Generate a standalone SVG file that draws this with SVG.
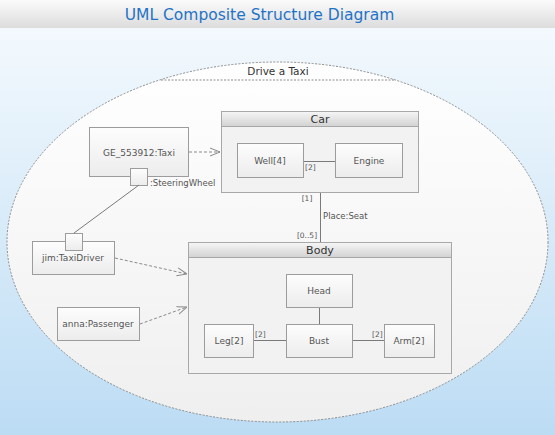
<svg xmlns="http://www.w3.org/2000/svg" width="555" height="435" viewBox="0 0 555 435">
<defs>
<linearGradient id="bg" x1="0" y1="0" x2="0" y2="1"><stop offset="0" stop-color="#f7fbfe"/><stop offset="1" stop-color="#bcdcf4"/></linearGradient>
<linearGradient id="bar" x1="0" y1="0" x2="0" y2="1"><stop offset="0" stop-color="#fbfbfb"/><stop offset="1" stop-color="#dcdcdc"/></linearGradient>
<linearGradient id="ell" x1="0" y1="0" x2="0" y2="1"><stop offset="0" stop-color="#ffffff"/><stop offset="1" stop-color="#efefef"/></linearGradient>
<linearGradient id="box" x1="0" y1="0" x2="0" y2="1"><stop offset="0" stop-color="#fdfdfd"/><stop offset="1" stop-color="#ececec"/></linearGradient>
<linearGradient id="hdr" x1="0" y1="0" x2="0" y2="1"><stop offset="0" stop-color="#f6f6f6"/><stop offset="1" stop-color="#d2d2d2"/></linearGradient>
<marker id="open" viewBox="0 0 10 10" refX="10" refY="5" markerWidth="10" markerHeight="10" markerUnits="userSpaceOnUse" orient="auto">
<path d="M0,1 L10,5 L0,9" fill="none" stroke="#8a8a8a" stroke-width="1"/>
</marker>
<style>
text{font-family:"DejaVu Sans","Liberation Sans",sans-serif;fill:#555555;}
.lbl{font-size:9px;text-anchor:middle;}
.hd{font-size:11px;text-anchor:middle;fill:#333;}
.sm{font-size:7.5px;}
.b{fill:url(#box);stroke:#9c9c9c;stroke-width:1;}
.c{fill:#f2f2f2;stroke:#a8a8a8;stroke-width:1;}
.h{fill:url(#hdr);stroke:#a8a8a8;stroke-width:1;}
.ln{stroke:#7a7a7a;stroke-width:1;fill:none;}
.dash{stroke:#8a8a8a;stroke-width:1;stroke-dasharray:3,2;fill:none;marker-end:url(#open);}
</style>
</defs>
<rect x="0" y="0" width="555" height="435" fill="url(#bg)"/>
<rect x="0" y="0" width="555" height="28" fill="url(#bar)"/>
<text x="259.5" y="20" text-anchor="middle" style="font-size:15.5px;fill:#1f73c6;">UML Composite Structure Diagram</text>

<g id="drive-a-taxi">
<ellipse cx="277.5" cy="242" rx="270.5" ry="180" fill="url(#ell)" stroke="#8c8c8c" stroke-width="1" stroke-dasharray="2,1.5"/>
<line x1="161" y1="80" x2="394" y2="80" stroke="#8c8c8c" stroke-width="1" stroke-dasharray="2,1.5"/>
<text x="278" y="75" text-anchor="middle" style="font-size:10.5px;fill:#333;">Drive a Taxi</text>
</g>

<g id="taxi">
<rect class="b" x="89.5" y="127.5" width="99" height="49"/>
<text class="lbl" x="139" y="156">GE_553912:Taxi</text>
<rect class="b" x="130.5" y="168.5" width="17" height="17"/>
</g>

<g id="taxi-driver">
<rect class="b" x="32.5" y="241.5" width="82" height="33"/>
<text class="lbl" x="73" y="261">jim:TaxiDriver</text>
<rect class="b" x="65.5" y="233.5" width="17" height="17"/>
</g>

<g id="passenger">
<rect class="b" x="57.5" y="307.5" width="82" height="33"/>
<text class="lbl" x="98" y="327">anna:Passenger</text>
</g>

<g id="car">
<rect class="c" x="221.5" y="111.5" width="197" height="81"/>
<rect class="h" x="221.5" y="111.5" width="197" height="15"/>
<text class="hd" x="320" y="123">Car</text>
</g>
<g id="well">
<rect class="b" x="237.5" y="143.5" width="66" height="34"/>
<text class="lbl" x="270" y="164">Well[4]</text>
</g>
<g id="engine">
<rect class="b" x="335.5" y="143.5" width="67" height="34"/>
<text class="lbl" x="369" y="164">Engine</text>
</g>

<g id="body">
<rect class="c" x="188.5" y="242.5" width="263" height="131"/>
<rect class="h" x="188.5" y="242.5" width="263" height="15"/>
<text class="hd" x="320" y="254">Body</text>
</g>
<g id="head">
<rect class="b" x="286.5" y="274.5" width="66" height="33"/>
<text class="lbl" x="319" y="294">Head</text>
</g>
<g id="bust">
<rect class="b" x="286.5" y="324.5" width="66" height="33"/>
<text class="lbl" x="319" y="344">Bust</text>
</g>
<g id="leg">
<rect class="b" x="204.5" y="324.5" width="49" height="33"/>
<text class="lbl" x="229" y="344">Leg[2]</text>
</g>
<g id="arm">
<rect class="b" x="384.5" y="324.5" width="50" height="33"/>
<text class="lbl" x="409" y="344">Arm[2]</text>
</g>

<g id="connectors">
<line class="dash" x1="189" y1="152" x2="220" y2="152"/>
<line class="ln" x1="139" y1="185" x2="74" y2="233"/>
<line class="dash" x1="115" y1="258" x2="187" y2="274"/>
<line class="dash" x1="140" y1="324" x2="187" y2="307"/>
<line class="ln" x1="304" y1="161.5" x2="335" y2="161.5"/>
<line class="ln" x1="320.5" y1="193" x2="320.5" y2="242"/>
<line class="ln" x1="319.5" y1="308" x2="319.5" y2="324"/>
<line class="ln" x1="254" y1="340.5" x2="286" y2="340.5"/>
<line class="ln" x1="353" y1="340.5" x2="384" y2="340.5"/>
<text class="sm" x="305" y="170">[2]</text>
<text class="sm" x="307" y="201" text-anchor="middle">[1]</text>
<text x="323" y="219" style="font-size:8.5px;">Place:Seat</text>
<text class="sm" x="307" y="238" text-anchor="middle">[0..5]</text>
<text class="sm" x="255" y="337">[2]</text>
<text class="sm" x="372" y="337">[2]</text>
<text x="150" y="186" style="font-size:8.5px;">:SteeringWheel</text>
</g>
</svg>
